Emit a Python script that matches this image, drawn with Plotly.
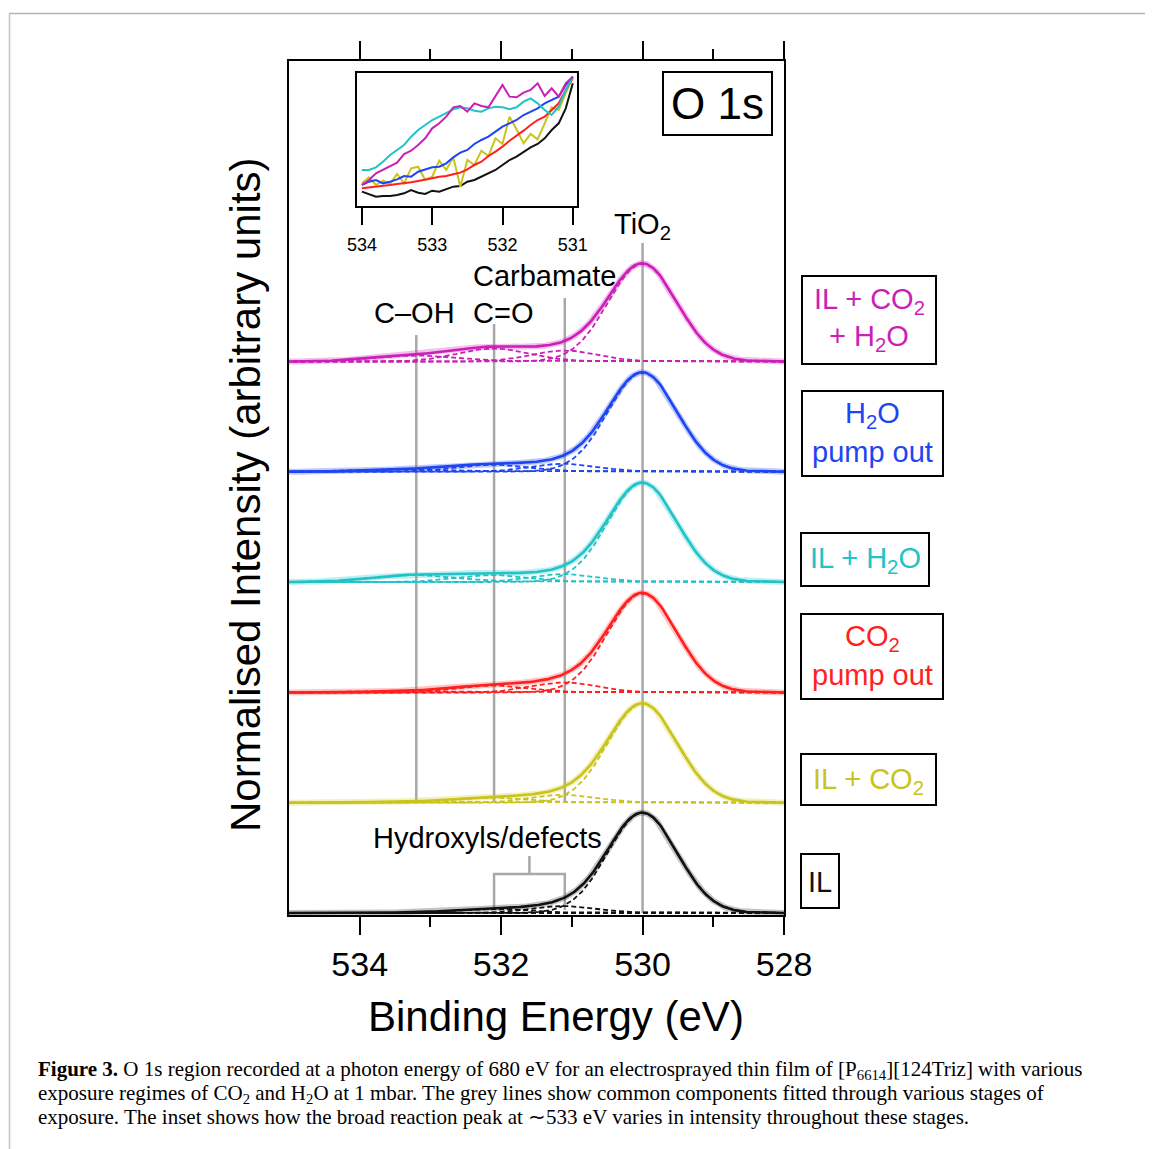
import numpy as np
import plotly.graph_objects as go

W, H = 1153, 1149
BODY = 8                              # default page margin of the html body
PL, PR, PT, PB = 289, 784, 61, 915   # plot area in pixels (reference)


def pxx(x):
    return (x - PL) / (PR - PL)


def pxy(y):
    return (PB - y) / (PB - PT)

# ---------------- data ----------------
sample_names = ["IL", "IL + CO2", "CO2 pump out", "IL + H2O", "H2O pump out", "IL + CO2 + H2O"]
sample_colors = ["#111111", "#c9c31c", "#ff1f1f", "#22c3c6", "#1f45f2", "#cc1fb6"]
sample_light = ["rgba(60,60,60,0.3)", "rgba(210,205,40,0.3)", "rgba(255,60,60,0.3)",
                "rgba(40,200,205,0.3)", "rgba(40,80,245,0.3)", "rgba(220,40,200,0.3)"]
sample_offsets = [0.0, 1.103, 2.205, 3.31, 4.413, 5.515]

# fitted components (centre / FWHM in eV) and heights read per spectrum
component_labels = ["TiO2", "Carbamate", "C=O", "C-OH"]
component_centers = [530.0, 531.1, 532.1, 533.2]
component_fwhm = [1.15, 1.1, 1.2, 1.4]
tio2_heights = [1.0, 0.99, 0.99, 0.99, 0.99, 0.975]
carbamate_heights = [0.07, 0.08, 0.10, 0.08, 0.08, 0.11]
co_heights = [0.04, 0.05, 0.07, 0.07, 0.07, 0.13]
coh_heights = [0.005, 0.01, 0.015, 0.07, 0.025, 0.06]

# inset: 534 -> 531 eV
inset_energy = [534.0, 533.9, 533.8, 533.7, 533.6, 533.5, 533.4, 533.3, 533.2, 533.1,
                533.0, 532.9, 532.8, 532.7, 532.6, 532.5, 532.4, 532.3, 532.2, 532.1,
                532.0, 531.9, 531.8, 531.7, 531.6, 531.5, 531.4, 531.3, 531.2, 531.1, 531.0]
inset_IL = [55, 48, 40, 42, 42, 45, 50, 60, 52, 48, 58, 55, 62, 70, 72, 85, 90, 100, 110, 120,
            135, 150, 160, 175, 188, 198, 215, 240, 260, 305, 380]
inset_IL_CO2 = [80, 98, 75, 88, 78, 108, 80, 125, 130, 90, 100, 148, 120, 158, 70, 150, 135, 178,
                162, 215, 198, 280, 242, 200, 228, 212, 260, 308, 300, 350, 400]
inset_CO2_pump = [65, 67, 70, 72, 75, 78, 80, 83, 87, 90, 95, 100, 102, 107, 112, 122, 135, 145,
                  162, 175, 190, 208, 222, 238, 255, 270, 280, 300, 320, 360, 395]
inset_IL_H2O = [120, 120, 128, 145, 165, 180, 195, 220, 240, 255, 270, 280, 290, 302, 308, 305,
                298, 295, 305, 310, 308, 302, 308, 325, 335, 320, 300, 285, 310, 360, 400]
inset_H2O_pump = [75, 85, 90, 80, 85, 92, 102, 100, 115, 122, 128, 130, 140, 158, 172, 180, 198,
                  210, 220, 235, 250, 260, 270, 285, 295, 305, 320, 330, 340, 375, 400]
inset_IL_CO2_H2O = [75, 90, 110, 120, 130, 142, 168, 178, 195, 215, 245, 260, 280, 308, 312, 295,
                    320, 312, 308, 342, 375, 340, 338, 352, 360, 380, 342, 365, 340, 380, 400]
inset_series = [inset_IL, inset_IL_CO2, inset_CO2_pump, inset_IL_H2O, inset_H2O_pump, inset_IL_CO2_H2O]

x_major = [534, 532, 530, 528]
x_minor = [533, 531, 529]
inset_ticks = [534, 533, 532, 531]

# ---------------- figure ----------------
fig = go.Figure()
energy = np.linspace(528.0, 535.0, 351)


def comp(center, fwhm, height):
    return height * np.exp(-4 * np.log(2) * ((energy - center) / fwhm) ** 2)


heights_by_comp = [tio2_heights, carbamate_heights, co_heights, coh_heights]

# grey reference lines (behind)
grey = "#a8a8a8"
line_tops = [1.185, 0.635, 0.375, 0.265]      # above top baseline, to sit under labels
line_bottom_idx = [0, 1, 1, 1]
for c, top, bi in zip(component_centers, line_tops, line_bottom_idx):
    fig.add_trace(go.Scatter(x=[c, c], y=[sample_offsets[bi], sample_offsets[-1] + top], mode="lines",
                             line=dict(color=grey, width=2.5), showlegend=False, hoverinfo="skip"))

# bracket for hydroxyls/defects
bx0, bx1 = component_centers[2], component_centers[1]
bmid = (bx0 + bx1) / 2
fig.add_trace(go.Scatter(x=[bx0, bx0, bx1, bx1], y=[0.03, 0.39, 0.39, 0.03], mode="lines",
                         line=dict(color=grey, width=2.5), showlegend=False, hoverinfo="skip"))
fig.add_trace(go.Scatter(x=[bmid, bmid], y=[0.39, 0.57], mode="lines",
                         line=dict(color=grey, width=2.5), showlegend=False, hoverinfo="skip"))

for i in range(6):
    off = sample_offsets[i]
    comps = [comp(component_centers[k], component_fwhm[k], heights_by_comp[k][i]) for k in range(4)]
    total = sum(comps)
    # raw data band
    fig.add_trace(go.Scatter(x=energy, y=total + off, mode="lines",
                             line=dict(color=sample_light[i], width=6), showlegend=False, hoverinfo="skip"))
    for k in range(4):
        fig.add_trace(go.Scatter(x=energy, y=comps[k] + off, mode="lines",
                                 line=dict(color=sample_colors[i], width=1.8, dash="5px,3px"),
                                 showlegend=False, hoverinfo="skip"))
    fig.add_trace(go.Scatter(x=energy, y=total + off, mode="lines",
                             line=dict(color=sample_colors[i], width=2.6), name=sample_names[i],
                             showlegend=False))

# inset
for i in [0, 1, 2, 4, 3, 5]:
    fig.add_trace(go.Scatter(x=inset_energy, y=inset_series[i], mode="lines", xaxis="x2", yaxis="y2",
                             line=dict(color=sample_colors[i], width=2), showlegend=False))

font = "Liberation Sans, Arial, sans-serif"
FW, FH = W - BODY, H - BODY
fig.update_layout(
    width=FW, height=FH,
    margin=dict(l=PL - BODY, r=FW - (PR - BODY), t=PT - BODY, b=FH - (PB - BODY)),
    paper_bgcolor="white", plot_bgcolor="white",
    font=dict(family=font, color="black"),
    xaxis=dict(range=[535, 528], domain=[0, 1], showgrid=False, zeroline=False,
               showline=True, linecolor="black", linewidth=2, mirror="ticks",
               ticks="outside", ticklen=18, tickwidth=2, tickcolor="black",
               tickvals=x_major, ticktext=[str(v) for v in x_major],
               tickfont=dict(size=34, family=font), ticklabelstandoff=0,
               minor=dict(tickvals=x_minor, ticks="outside", ticklen=10, tickwidth=2, tickcolor="black")),
    yaxis=dict(range=[-0.02, 8.52], domain=[0, 1], showgrid=False, zeroline=False,
               showline=True, linecolor="black", linewidth=2, mirror=True,
               ticks="", showticklabels=False),
    xaxis2=dict(domain=[pxx(357), pxx(577)], anchor="y2", range=[534.07, 530.94],
                showgrid=False, zeroline=False, showline=True, linecolor="black", linewidth=2,
                mirror=True, ticks="outside", ticklen=17, tickwidth=2, tickcolor="black",
                tickvals=inset_ticks, tickfont=dict(size=18, family=font), ticklabelstandoff=4),
    yaxis2=dict(domain=[pxy(206), pxy(73)], anchor="x2", range=[12, 411], showgrid=False,
                zeroline=False, showline=True, linecolor="black", linewidth=2, mirror=True,
                ticks="", showticklabels=False),
)

shapes = []
ann = []

# outer frame (grey)
shapes.append(dict(type="line", xref="paper", yref="paper", x0=pxx(9), x1=pxx(1170), y0=pxy(13.5), y1=pxy(13.5),
                   line=dict(color="#b4b4b4", width=1.5)))
shapes.append(dict(type="line", xref="paper", yref="paper", x0=pxx(9.5), x1=pxx(9.5), y0=pxy(13.5), y1=pxy(1170),
                   line=dict(color="#c4c4c4", width=1.5)))


def box(x0, y0, x1, y1):
    shapes.append(dict(type="rect", xref="paper", yref="paper", x0=pxx(x0), x1=pxx(x1), y0=pxy(y1), y1=pxy(y0),
                       line=dict(color="black", width=2), fillcolor="white", layer="above"))


def ptext(text, x, y, size, color="black", **kw):
    ann.append(dict(text=text, xref="paper", yref="paper", x=pxx(x), y=pxy(y), showarrow=False,
                    xanchor=kw.get("xanchor", "center"), yanchor="middle",
                    font=dict(size=size, color=color, family=kw.get("family", font)),
                    textangle=kw.get("angle", 0)))


def dtext(text, x, y, size, color="black"):
    ann.append(dict(text=text, xref="x", yref="y", x=x, y=y, showarrow=False, xanchor="center",
                    yanchor="middle", font=dict(size=size, color=color, family=font)))


# O 1s box
box(663, 72, 772, 135)
ptext("O 1s", 717.5, 104, 44)

# component labels
dtext("TiO<sub>2</sub>", 530.0, 6.87, 29)
dtext("Carbamate", 531.38, 6.37, 29)
dtext("C–OH", 533.22, 6.0, 29)
dtext("C=O", 531.97, 6.0, 29)
dtext("Hydroxyls/defects", 532.2, 0.75, 29)

# sample label boxes
c = sample_colors
box(802, 276, 936, 364)
ptext("IL + CO<sub>2</sub>", 869, 301, 29, c[5])
ptext("+ H<sub>2</sub>O", 869, 338, 29, c[5])
box(802, 391, 943, 476)
ptext("H<sub>2</sub>O", 872, 415, 29, c[4])
ptext("pump out", 872, 452, 29, c[4])
box(801, 533, 929, 586)
ptext("IL + H<sub>2</sub>O", 865, 560, 29, c[3])
box(801, 614, 943, 699)
ptext("CO<sub>2</sub>", 872, 638, 29, c[2])
ptext("pump out", 872, 675, 29, c[2])
box(801, 754, 936, 805)
ptext("IL + CO<sub>2</sub>", 868, 781, 29, c[1])
box(801, 854, 839, 908)
ptext("IL", 820, 882, 29, c[0])

# axis titles
ptext("Binding Energy (eV)", 556, 1016, 42)
ptext("Normalised Intensity (arbitrary units)", 245, 495, 42, angle=-90)

# caption
serif = "Liberation Serif, Times New Roman, serif"
cap = [
    "<b>Figure 3.</b> O 1s region recorded at a photon energy of 680 eV for an electrosprayed thin film of "
    "[P<sub>6614</sub>][124Triz] with various",
    "exposure regimes of CO<sub>2</sub> and H<sub>2</sub>O at 1 mbar. The grey lines show common components "
    "fitted through various stages of",
    "exposure. The inset shows how the broad reaction peak at ∼533 eV varies in intensity throughout these stages.",
]
for j, line in enumerate(cap):
    ptext(line, 36, 1070 + j * 23.5, 21, xanchor="left", family=serif)

fig.update_layout(shapes=shapes, annotations=ann)
fig.write_html("out.html")
